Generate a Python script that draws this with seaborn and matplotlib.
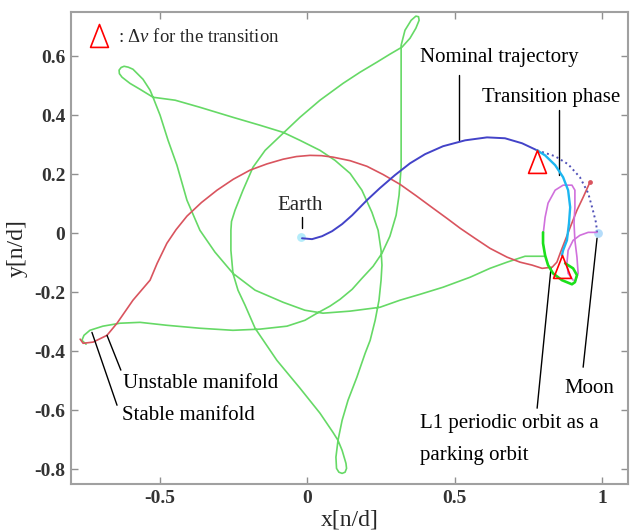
import matplotlib
matplotlib.use("Agg")
import matplotlib.pyplot as plt
from matplotlib.path import Path
import seaborn as sns

# ---- trajectories in the rotating frame [n/d] ----
# stable manifold (from the connection point back to the L1 orbit)
stable_x = [-0.749, -0.763, -0.756, -0.736, -0.692, -0.634, -0.566, -0.475, -0.363, -0.251,
            -0.159, -0.068, -0.007, 0.034, 0.078, 0.112, 0.153, 0.186, 0.224, 0.254,
            0.281, 0.302, 0.312, 0.319, 0.319, 0.319, 0.319, 0.319,
            0.332, 0.353, 0.369, 0.378, 0.380, 0.369, 0.349, 0.322, 0.281, 0.237, 0.180,
            0.122, 0.044, -0.024, -0.081, -0.142, -0.183, -0.217, -0.244, -0.256, -0.258, -0.258,
            -0.251, -0.234, -0.210, -0.176, -0.102, -0.024, 0.044, 0.088, 0.105, 0.119,
            0.132, 0.134, 0.129, 0.119, 0.108, 0.100, 0.098, 0.105, 0.119, 0.139, 0.169, 0.197,
            0.214, 0.231, 0.244, 0.251, 0.254, 0.251, 0.241, 0.220, 0.186, 0.146,
            0.095, 0.044, -0.024, -0.081, -0.159, -0.251, -0.363, -0.447, -0.522,
            -0.566, -0.600, -0.627, -0.636, -0.637, -0.630, -0.620, -0.606, -0.590, -0.556,
            -0.532, -0.522, -0.498,
            -0.471, -0.441, -0.407, -0.363, -0.312, -0.251, -0.176, -0.081, -0.007, 0.054,
            0.146, 0.247, 0.315, 0.383, 0.461, 0.553, 0.620, 0.678, 0.739, 0.807]
stable_y = [-0.376, -0.363, -0.346, -0.329, -0.315, -0.305, -0.302, -0.312, -0.322, -0.329,
            -0.325, -0.315, -0.295, -0.271, -0.247, -0.224, -0.190, -0.153, -0.112, -0.068,
            -0.010, 0.061, 0.129, 0.224, 0.349, 0.485, 0.586, 0.637,
            0.688, 0.722, 0.736, 0.734, 0.722, 0.695, 0.661, 0.631, 0.607, 0.580, 0.546,
            0.508, 0.451, 0.393, 0.339, 0.281, 0.224, 0.146, 0.078, 0.040, 0.010, -0.058,
            -0.136, -0.193, -0.244, -0.322, -0.431, -0.525, -0.610, -0.675, -0.702, -0.736,
            -0.780, -0.797, -0.810, -0.814, -0.810, -0.797, -0.759, -0.702, -0.634, -0.566, -0.488, -0.407,
            -0.363, -0.295, -0.227, -0.159, -0.108, -0.058, 0.010, 0.071, 0.146, 0.203,
            0.247, 0.281, 0.315, 0.342, 0.366, 0.393, 0.427, 0.451, 0.461,
            0.488, 0.508, 0.529, 0.541, 0.553, 0.562, 0.566, 0.563, 0.556, 0.522,
            0.485, 0.461, 0.400,
            0.315, 0.231, 0.112, 0.010, -0.064, -0.136, -0.193, -0.234, -0.261, -0.271,
            -0.264, -0.251, -0.227, -0.207, -0.183, -0.149, -0.119, -0.098, -0.078, -0.078]

# unstable manifold (from the L1 region out to the connection point)
unstable_x = [0.959, 0.936, 0.915, 0.892, 0.875, 0.858, 0.847, 0.831, 0.797, 0.763,
              0.722, 0.678, 0.620, 0.569, 0.519, 0.475, 0.427, 0.370, 0.315, 0.258,
              0.203, 0.146, 0.088, 0.049, 0.010, -0.036, -0.081, -0.136, -0.193, -0.250,
              -0.305, -0.358, -0.407, -0.444, -0.475, -0.508, -0.532, -0.590, -0.644, -0.678,
              -0.725, -0.759, -0.769]
unstable_y = [0.173, 0.122, 0.078, 0.020, -0.024, -0.068, -0.098, -0.115, -0.119, -0.108,
              -0.098, -0.081, -0.051, -0.017, 0.017, 0.050, 0.085, 0.127, 0.166, 0.199,
              0.227, 0.246, 0.258, 0.263, 0.264, 0.260, 0.251, 0.235, 0.214, 0.183,
              0.146, 0.104, 0.058, 0.012, -0.034, -0.102, -0.159, -0.227, -0.305, -0.346,
              -0.369, -0.373, -0.359]

# nominal trajectory from Earth
nominal_x = [-0.017, 0.017, 0.051, 0.085, 0.119, 0.153, 0.203, 0.247, 0.298, 0.349,
             0.400, 0.461, 0.536, 0.610, 0.671, 0.729, 0.780]
nominal_y = [-0.017, -0.020, -0.010, 0.007, 0.031, 0.061, 0.112, 0.153, 0.197, 0.237,
             0.268, 0.295, 0.315, 0.325, 0.322, 0.305, 0.281]

# nominal continuation toward the Moon (dotted)
nominal_cont_x = [0.780, 0.841, 0.885, 0.925, 0.953, 0.969, 0.980, 0.983]
nominal_cont_y = [0.281, 0.261, 0.234, 0.190, 0.136, 0.078, 0.034, 0.003]

# transition phase
transition_x = [0.780, 0.807, 0.841, 0.868, 0.885, 0.892, 0.888, 0.881, 0.868, 0.864]
transition_y = [0.281, 0.264, 0.231, 0.190, 0.146, 0.088, 0.034, -0.024, -0.058, -0.075]

# L1 periodic orbit (upper arc) and parking arc
orbit_x = [0.800, 0.807, 0.817, 0.841, 0.868, 0.898, 0.908, 0.908, 0.905, 0.908, 0.915, 0.919, 0.908]
orbit_y = [-0.007, 0.054, 0.102, 0.146, 0.163, 0.163, 0.146, 0.088, 0.034, -0.024, -0.081, -0.136, -0.166]
orbit2_x = [0.983, 0.953, 0.925, 0.902, 0.885, 0.881, 0.885, 0.902]
orbit2_y = [0.003, 0.003, -0.007, -0.024, -0.058, -0.102, -0.136, -0.159]
parking_x = [0.800, 0.800, 0.807, 0.817, 0.834, 0.864, 0.898, 0.908, 0.915, 0.902, 0.875]
parking_y = [0.003, -0.034, -0.075, -0.108, -0.136, -0.159, -0.173, -0.166, -0.142, -0.119, -0.102]

# delta-v locations
dv_x = [0.780, 0.864]
dv_y = [0.281, -0.075]

# primaries
earth_xy = (-0.020, -0.014)
moon_xy = (0.986, 0.000)

x_ticks = [-0.5, 0, 0.5, 1]
x_tick_labels = ["-0.5", "0", "0.5", "1"]
y_ticks = [-0.8, -0.6, -0.4, -0.2, 0, 0.2, 0.4, 0.6]
y_tick_labels = ["-0.8", "-0.6", "-0.4", "-0.2", "0", "0.2", "0.4", "0.6"]

# ---- style ----
sns.set_style("ticks")
plt.rcParams["font.family"] = ["Liberation Serif", "DejaVu Serif"]
plt.rcParams["mathtext.fontset"] = "custom"
plt.rcParams["mathtext.rm"] = "Liberation Serif"
plt.rcParams["mathtext.it"] = "Liberation Serif:italic"
plt.rcParams["axes.unicode_minus"] = False

fig = plt.figure(figsize=(6.3, 5.32), dpi=100)
ax = fig.add_axes([71 / 630, 48 / 532, 557 / 630, 472 / 532])


def curve(x, y, color, lw, **kw):
    sns.lineplot(x=x, y=y, sort=False, estimator=None, color=color,
                 linewidth=lw, ax=ax, **kw)


curve(stable_x, stable_y, "#66d966", 1.2, zorder=2)
curve(unstable_x, unstable_y, "#d9545e", 1.2, zorder=2)
curve(nominal_x, nominal_y, "#4343c8", 1.4, zorder=3)
curve(nominal_cont_x, nominal_cont_y, "#5050b8", 1.4, linestyle=":", zorder=3)
curve(orbit_x, orbit_y, "#d070dc", 1.2, zorder=3)
curve(orbit2_x, orbit2_y, "#d070dc", 1.2, zorder=3)
curve(parking_x, parking_y, "#1be01b", 1.9, zorder=4)
curve(transition_x, transition_y, "#1cb6f0", 1.7, zorder=4)

# end point of the unstable manifold
sns.scatterplot(x=[unstable_x[0]], y=[unstable_y[0]], color="#d9545e", s=12,
                linewidth=0, ax=ax, zorder=4)

# Earth and Moon
sns.scatterplot(x=[earth_xy[0]], y=[earth_xy[1]], color="#b4ecfa", s=40,
                linewidth=0, ax=ax, zorder=2)
sns.scatterplot(x=[moon_xy[0]], y=[moon_xy[1]], color="#b4dcfa", s=40,
                linewidth=0, ax=ax, zorder=2)

# open triangle with its apex on the point
tri = Path([(0, 0), (-0.39, -1), (0.39, -1), (0, 0)],
           [Path.MOVETO, Path.LINETO, Path.LINETO, Path.CLOSEPOLY])
tri_kw = dict(sort=False, estimator=None, linestyle="", marker=tri, markersize=33,
              markerfacecolor="none", markeredgecolor="red", markeredgewidth=1.2,
              ax=ax, zorder=6)
sns.lineplot(x=dv_x, y=dv_y, **tri_kw)
sns.lineplot(x=[-0.705], y=[0.708], **tri_kw)
ax.text(-0.640, 0.664, r": $\Delta v$ for the transition", fontsize=13.5,
        ha="left", va="center")

# ---- annotations ----
ann = dict(fontsize=15, ha="left", va="center", color="black")
ax.text(0.383, 0.597, "Nominal trajectory", **ann)
ax.plot([0.515, 0.515], [0.536, 0.315], color="black", lw=1)
ax.text(0.593, 0.461, "Transition phase", **ann)
ax.plot([0.854, 0.854], [0.417, 0.197], color="black", lw=1)
ax.text(-0.024, 0.095, "Earth", fontsize=15, ha="center", va="center")
ax.plot([-0.017, -0.017], [0.054, 0.017], color="black", lw=1)
ax.text(-0.624, -0.508, "Unstable manifold", **ann)
ax.plot([-0.678, -0.631], [-0.346, -0.464], color="black", lw=1)
ax.text(-0.627, -0.617, "Stable manifold", **ann)
ax.plot([-0.729, -0.644], [-0.336, -0.583], color="black", lw=1)
ax.text(0.871, -0.525, "Moon", **ann)
ax.plot([0.983, 0.936], [-0.017, -0.454], color="black", lw=1)
ax.text(0.383, -0.644, "L1 periodic orbit as a", **ann)
ax.text(0.383, -0.753, "parking orbit", **ann)
ax.plot([0.827, 0.780], [-0.119, -0.593], color="black", lw=1)

# ---- axes ----
ax.set_xlim(-0.8, 1.088)
ax.set_ylim(-0.85, 0.75)
ax.set_xticks(x_ticks)
ax.set_xticklabels(x_tick_labels)
ax.set_yticks(y_ticks)
ax.set_yticklabels(y_tick_labels)
ax.tick_params(direction="in", length=5, width=1, color="#909090",
               labelcolor="#333333", labelsize=14, pad=4,
               top=True, right=True)
for lbl in ax.get_xticklabels() + ax.get_yticklabels():
    lbl.set_fontweight("bold")
for sp in ax.spines.values():
    sp.set_visible(True)
    sp.set_color("#a0a0a0")
    sp.set_linewidth(1.5)
ax.set_xlabel("x[n/d]", fontsize=17, labelpad=2)
ax.set_ylabel("y[n/d]", fontsize=17, labelpad=5)

fig.savefig("out.png", dpi=100)
